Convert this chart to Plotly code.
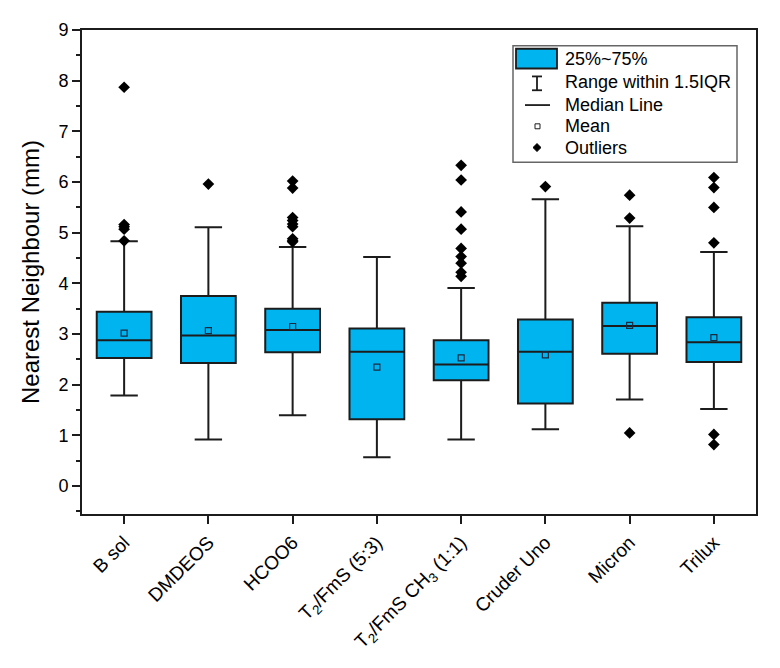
import plotly.graph_objects as go

# ---- data ----
groups = ["B sol", "DMDEOS", "HCOO6", "T<sub>2</sub>/FmS (5:3)",
          "T<sub>2</sub>/FmS CH<sub>3</sub> (1:1)", "Cruder Uno", "Micron", "Trilux"]
q1 = [2.53, 2.43, 2.64, 1.32, 2.09, 1.63, 2.61, 2.45]
median = [2.88, 2.97, 3.08, 2.65, 2.40, 2.65, 3.16, 2.84]
q3 = [3.44, 3.75, 3.50, 3.11, 2.88, 3.29, 3.62, 3.33]
lower = [1.79, 0.92, 1.40, 0.57, 0.92, 1.12, 1.71, 1.52]
upper = [4.83, 5.11, 4.72, 4.52, 3.91, 5.66, 5.13, 4.62]
mean = [3.02, 3.07, 3.15, 2.35, 2.53, 2.59, 3.17, 2.93]
outliers = [
    [7.87, 5.16, 5.12, 5.07, 4.84],
    [5.96],
    [6.02, 5.88, 5.30, 5.24, 5.17, 5.12, 4.88, 4.84, 4.82],
    [],
    [6.33, 6.04, 5.41, 5.07, 4.69, 4.53, 4.40, 4.22, 4.14],
    [5.91],
    [5.74, 5.29, 1.05],
    [6.09, 5.89, 5.50, 4.80, 1.02, 0.82],
]

FILL = "#00b4ef"
EDGE = "#1c1c1c"
FONT = "Arial, Liberation Sans, sans-serif"

pos = list(range(len(groups)))

fig = go.Figure()
fig.add_trace(go.Box(
    x=pos, q1=q1, median=median, q3=q3,
    lowerfence=lower, upperfence=upper,
    width=0.65, whiskerwidth=0.5,
    fillcolor=FILL, line=dict(color=EDGE, width=2),
    boxpoints=False, showlegend=False, hoverinfo="skip",
))

fig.add_trace(go.Scatter(
    x=pos, y=mean, mode="markers", showlegend=False,
    marker=dict(symbol="square-open", size=6, color="#1a2a40", line=dict(width=1.2)),
))

ox, oy = [], []
for i, vals in enumerate(outliers):
    ox += [i] * len(vals)
    oy += vals
fig.add_trace(go.Scatter(
    x=ox, y=oy, mode="markers", showlegend=False,
    marker=dict(symbol="diamond", size=9, color="black"),
))

# ---- hand made legend (screen pixel -> paper) ----
# page body has an 8px margin, so the figure starts at (8, 8) on screen
OFF = 8
W, H = 780 - OFF, 668 - OFF
L, R, T, B = 82, 756, 24, 514


def px(x):
    return (x - L) / (R - L)


def py(y):
    return (B - y) / (B - T)


shapes = []
shapes.append(dict(type="rect", xref="paper", yref="paper", x0=px(513), x1=px(737),
                   y0=py(158), y1=py(40), line=dict(color="#666", width=1.5),
                   fillcolor="white", layer="above"))
shapes.append(dict(type="rect", xref="paper", yref="paper", x0=px(516), x1=px(557),
                   y0=py(63), y1=py(43), line=dict(color=EDGE, width=1.8),
                   fillcolor=FILL, layer="above"))
for (x0, y0, x1, y1) in [(537, 71, 537, 85), (532, 71, 542, 71), (532, 85, 542, 85),
                         (525, 100, 550, 100)]:
    shapes.append(dict(type="line", xref="paper", yref="paper", x0=px(x0), x1=px(x1),
                       y0=py(y0), y1=py(y1), line=dict(color=EDGE, width=1.8),
                       layer="above"))
shapes.append(dict(type="rect", xref="paper", yref="paper", x0=px(535), x1=px(540),
                   y0=py(124), y1=py(119), line=dict(color=EDGE, width=1),
                   fillcolor="white", layer="above"))
d = 4
shapes.append(dict(type="path", xref="paper", yref="paper",
                   path=f"M {px(537)},{py(143 - d)} L {px(537 + d)},{py(143)} "
                        f"L {px(537)},{py(143 + d)} L {px(537 - d)},{py(143)} Z",
                   fillcolor="black", line=dict(color="black", width=1), layer="above"))

labels = ["25%~75%", "Range within 1.5IQR", "Median Line", "Mean", "Outliers"]
ys = [53, 77, 100, 121, 143]
annotations = [dict(x=px(563), y=py(yy), xref="paper", yref="paper", text=t,
                    showarrow=False, xanchor="left", yanchor="middle",
                    font=dict(size=18, color="black", family=FONT))
               for t, yy in zip(labels, ys)]

fig.update_layout(
    width=W, height=H,
    margin=dict(l=L - OFF, r=W - (R - OFF), t=T - OFF, b=H - (B - OFF)),
    plot_bgcolor="white", paper_bgcolor="white",
    font=dict(family=FONT, color="black"),
    shapes=shapes, annotations=annotations,
    showlegend=False,
)
fig.update_xaxes(
    range=[-0.5, 7.5], tickvals=pos, ticktext=groups, tickangle=-45,
    showgrid=False, zeroline=False, showline=True, mirror=True,
    linecolor=EDGE, linewidth=2, ticks="outside", ticklen=8, tickwidth=1.8,
    tickcolor=EDGE, tickfont=dict(size=19),
)
fig.update_yaxes(
    range=[-0.55, 9], tickvals=list(range(10)),
    showgrid=False, zeroline=False, showline=True, mirror=True,
    linecolor=EDGE, linewidth=2, ticks="outside", ticklen=8, tickwidth=1.8,
    tickcolor=EDGE, tickfont=dict(size=18),
    minor=dict(tickvals=[i + 0.5 for i in range(-1, 9)], ticks="outside",
               ticklen=4, tickwidth=1.8, tickcolor=EDGE),
    title=dict(text="Nearest Neighbour (mm)", font=dict(size=24), standoff=12),
)

fig.write_html("out.html")
